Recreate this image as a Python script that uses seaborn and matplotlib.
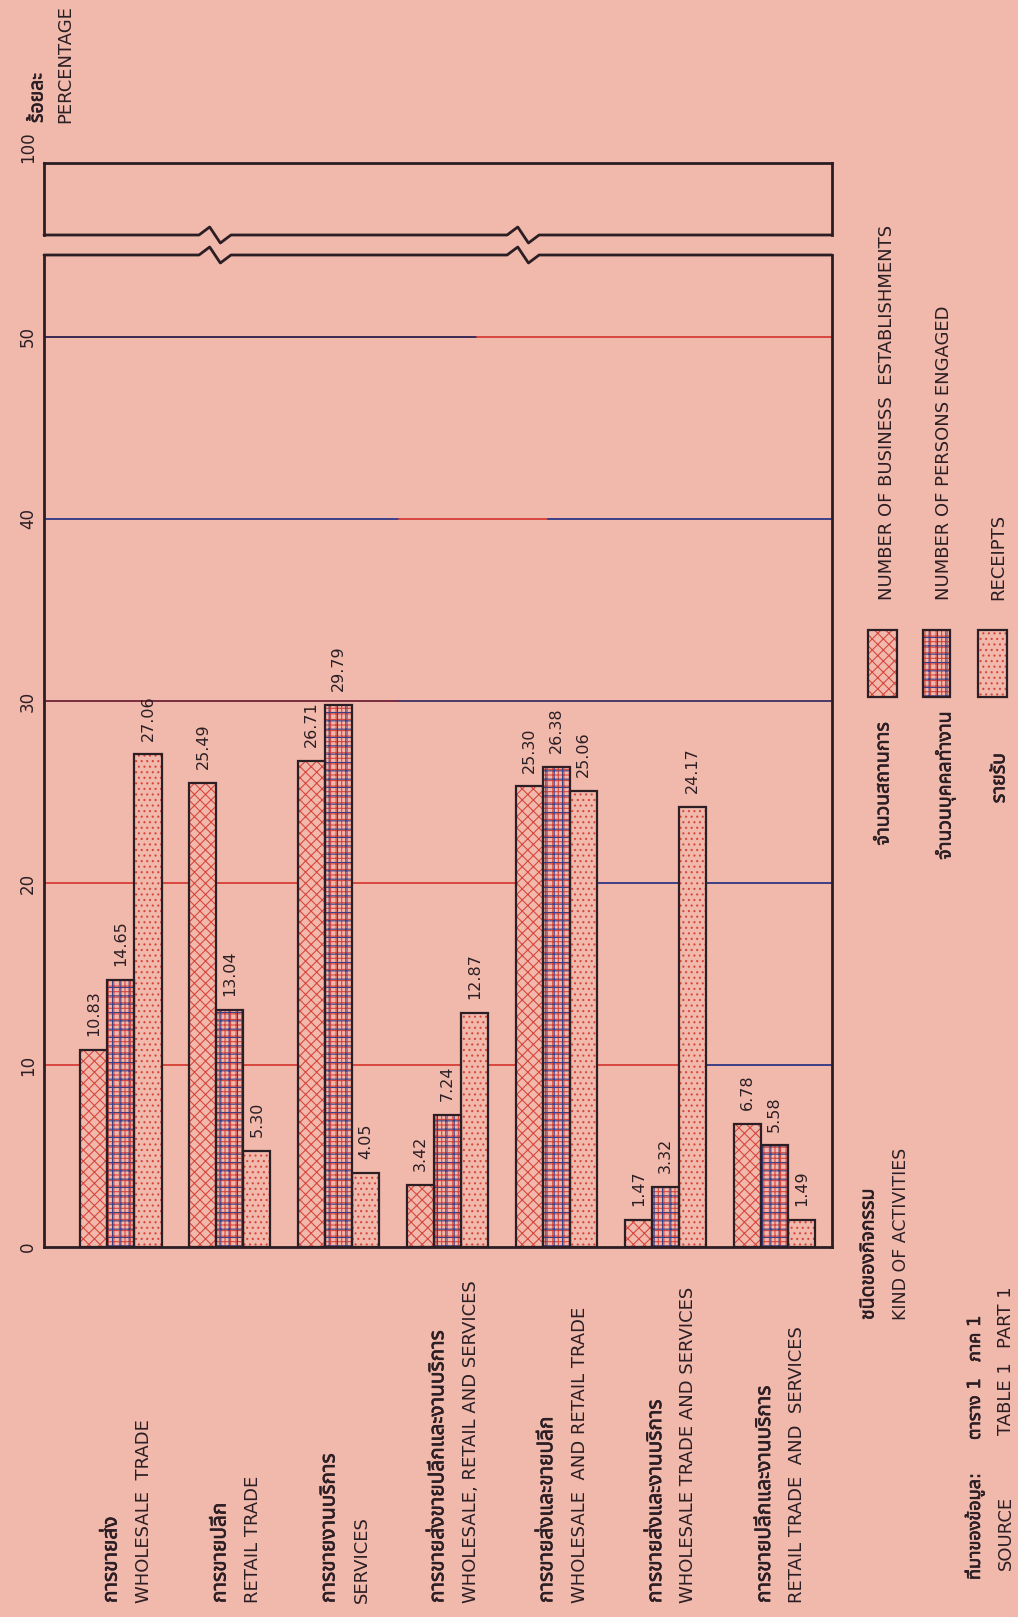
import matplotlib
matplotlib.use("Agg")
import matplotlib.pyplot as plt
import matplotlib.patches as mpatches
import matplotlib.patheffects as pe
import matplotlib.transforms as mtransforms
from matplotlib.lines import Line2D
from matplotlib import font_manager, ft2font
import pandas as pd
import seaborn as sns

# values (percent)
activities_th = ["การขายส่ง", "การขายปลีก", "การขายงานบริการ",
                 "การขายส่งขายปลีกและงานบริการ", "การขายส่งและขายปลีก",
                 "การขายส่งและงานบริการ", "การขายปลีกและงานบริการ"]
activities_en = ["WHOLESALE  TRADE", "RETAIL TRADE", "SERVICES",
                 "WHOLESALE, RETAIL AND SERVICES", "WHOLESALE  AND RETAIL TRADE",
                 "WHOLESALE TRADE AND SERVICES", "RETAIL TRADE  AND  SERVICES"]
establishments = [10.83, 25.49, 26.71, 3.42, 25.30, 1.47, 6.78]
persons = [14.65, 13.04, 29.79, 7.24, 26.38, 3.32, 5.58]
receipts = [27.06, 5.30, 4.05, 12.87, 25.06, 24.17, 1.49]
series_en = ["NUMBER OF BUSINESS  ESTABLISHMENTS", "NUMBER OF PERSONS ENGAGED", "RECEIPTS"]
series_th = ["จำนวนสถานการ", "จำนวนบุคคลทำงาน", "รายรับ"]
lower_ticks = [0, 10, 20, 30, 40, 50]
upper_ticks = [100]


def find_thai_font():
    # first installed font that has Thai glyphs, Noto first if present
    found = []
    for f in font_manager.fontManager.ttflist:
        try:
            if 0x0E01 in ft2font.FT2Font(f.fname).get_charmap():
                found.append(f.name)
        except Exception:
            continue
    found.sort(key=lambda n: (0 if "Noto" in n else 1, n))
    return found[0] if found else None


W, H = 1018, 1617
BG = "#f1b9ab"
INK = "#2b1e24"
RED = "#d8473f"
BLUE = "#3d3f86"

sns.set_theme(style="white")
thai = find_thai_font()
plt.rcParams["font.family"] = ["DejaVu Sans", thai] if thai else ["DejaVu Sans"]
plt.rcParams["hatch.linewidth"] = 0.8
plt.rcParams["text.color"] = INK

# the Thai print is a bit heavier; thicken the strokes slightly
heavy = [pe.withStroke(linewidth=0.45, foreground=INK)]


def px_box(x0, y0, x1, y1):
    return [x0 / W, 1 - y1 / H, (x1 - x0) / W, (y1 - y0) / H]


fig = plt.figure(figsize=(W / 100, H / 100), dpi=100, facecolor=BG)
ax = fig.add_axes(px_box(44, 255, 832, 1247))
ax_top = fig.add_axes(px_box(44, 163, 832, 235))
for a in (ax, ax_top):
    a.set_facecolor(BG)

df = pd.DataFrame({
    "activity": activities_en * 3,
    "series": [s for s in series_en for _ in activities_en],
    "percent": establishments + persons + receipts,
})

sns.barplot(data=df, x="activity", y="percent", hue="series",
            order=activities_en, hue_order=series_en, palette=[BG] * 3,
            width=0.744, saturation=1, legend=False, ax=ax, zorder=3)

# hatches: red cross-hatch, red/blue grid, red dots, black outlines
hatches = ["xxx", "+++", "..."]
for cont, hatch in zip(ax.containers, hatches):
    for bar in cont:
        bar.set_hatch(hatch)
        bar.set_edgecolor(RED)
        bar.set_linewidth(0)
        if hatch == "+++":
            ax.add_patch(mpatches.Rectangle(bar.get_xy(), bar.get_width(), bar.get_height(),
                                            fill=False, hatch="++", edgecolor=BLUE, lw=0, zorder=3.5))
        ax.add_patch(mpatches.Rectangle(bar.get_xy(), bar.get_width(), bar.get_height(),
                                        fill=False, edgecolor=INK, lw=1.6, zorder=4))
    ax.bar_label(cont, fmt="%.2f", rotation=90, padding=10, fontsize=11.5, color=INK)

# grid lines (red/blue like the print)
grid_segments = {
    10: [(0, 0.82, RED), (0.82, 1, BLUE)],
    20: [(0, 0.62, RED), (0.62, 1, BLUE)],
    30: [(0, 0.45, "#7a2c40"), (0.45, 1, "#4a3a6a")],
    40: [(0, 0.45, BLUE), (0.45, 0.64, RED), (0.64, 1, BLUE)],
    50: [(0, 0.55, "#3a2a55"), (0.55, 1, RED)],
}
for y, segs in grid_segments.items():
    for x0, x1, c in segs:
        ax.axhline(y, x0, x1, color=c, lw=1.4, zorder=1)

ax.set_xlim(-0.707, 6.529)
ax.set_ylim(0, 54.5)
ax.set_yticks(lower_ticks)
ax.set_yticklabels([str(t) for t in lower_ticks], rotation=90, va="center")
ax.set_xticks([])
ax.set_xlabel("")
ax.set_ylabel("")
ax.tick_params(axis="y", length=0, pad=5, labelsize=12, labelcolor=INK)

ax_top.set_xlim(-0.707, 6.529)
ax_top.set_ylim(96, 100)
ax_top.set_yticks(upper_ticks)
ax_top.set_yticklabels([str(t) for t in upper_ticks], rotation=90, va="bottom")
ax_top.set_xticks([])
ax_top.tick_params(axis="y", length=0, pad=5, labelsize=12, labelcolor=INK)

for a in (ax, ax_top):
    for s in a.spines.values():
        s.set_color(INK)
        s.set_linewidth(2)
ax.spines["top"].set_visible(False)
ax_top.spines["bottom"].set_visible(False)


def broken_edge(a, y, w_px, h_px, breaks=(0.217, 0.608)):
    # horizontal edge with zigzag break marks, in axes fraction
    d = 16 / w_px
    h = 8 / h_px
    xs, ys = [0], [y]
    for b in breaks:
        xs += [b - d, b - d / 3, b + d / 3, b + d]
        ys += [y, y + h, y - h, y]
    xs.append(1)
    ys.append(y)
    a.add_line(Line2D(xs, ys, transform=a.transAxes, color=INK, lw=2, clip_on=False))


broken_edge(ax, 1, 788, 992)
broken_edge(ax_top, 0, 788, 72)

# category labels under the frame
trans = mtransforms.blended_transform_factory(ax.transData, fig.transFigure)
for i, (th, en) in enumerate(zip(activities_th, activities_en)):
    ax.text(i - 0.095, 1 - 1603 / H, th, transform=trans, rotation=90,
            ha="center", va="bottom", fontsize=15, path_effects=heavy)
    ax.text(i + 0.211, 1 - 1603 / H, en, transform=trans, rotation=90,
            ha="center", va="bottom", fontsize=13)


def ftext(x, y, s, va="bottom", **kw):
    fig.text(x / W, 1 - y / H, s, rotation=90, ha="center", va=va, **kw)


ftext(37, 123, "ร้อยละ", fontsize=14, path_effects=heavy)
ftext(65, 123, "PERCENTAGE", fontsize=13)

# legend
box_x = [(868, 897), (923, 950), (978, 1007)]
en_x = [887, 944, 998]
th_x = [883, 945, 999]
th_top = [722, 711, 753]
for (x0, x1), ex, tx, tt, hatch, en, th in zip(box_x, en_x, th_x, th_top, hatches,
                                               series_en, series_th):
    xy = (x0 / W, 1 - 697 / H)
    w, h = (x1 - x0) / W, (697 - 630) / H
    fig.add_artist(mpatches.Rectangle(xy, w, h, transform=fig.transFigure, facecolor=BG,
                                      hatch=hatch, edgecolor=RED, lw=0))
    if hatch == "+++":
        fig.add_artist(mpatches.Rectangle(xy, w, h, transform=fig.transFigure, fill=False,
                                          hatch="++", edgecolor=BLUE, lw=0))
    fig.add_artist(mpatches.Rectangle(xy, w, h, transform=fig.transFigure, fill=False,
                                      edgecolor=INK, lw=1.6))
    ftext(ex, 600, en, fontsize=13)
    ftext(tx, tt, th, va="top", fontsize=14, path_effects=heavy)

ftext(868, 1320, "ชนิดของกิจกรรม", fontsize=14, path_effects=heavy)
ftext(901, 1320, "KIND OF ACTIVITIES", fontsize=12.5)

# source
ftext(975, 1580, "ที่มาของข้อมูล:", fontsize=13, path_effects=heavy)
ftext(975, 1440, "ตาราง 1", fontsize=13, path_effects=heavy)
ftext(975, 1362, "ภาค 1", fontsize=13, path_effects=heavy)
ftext(1006, 1570, "SOURCE", fontsize=13)
ftext(1006, 1435, "TABLE 1", fontsize=13)
ftext(1006, 1348, "PART 1", fontsize=13)

fig.savefig("out.png", dpi=100, facecolor=BG)
